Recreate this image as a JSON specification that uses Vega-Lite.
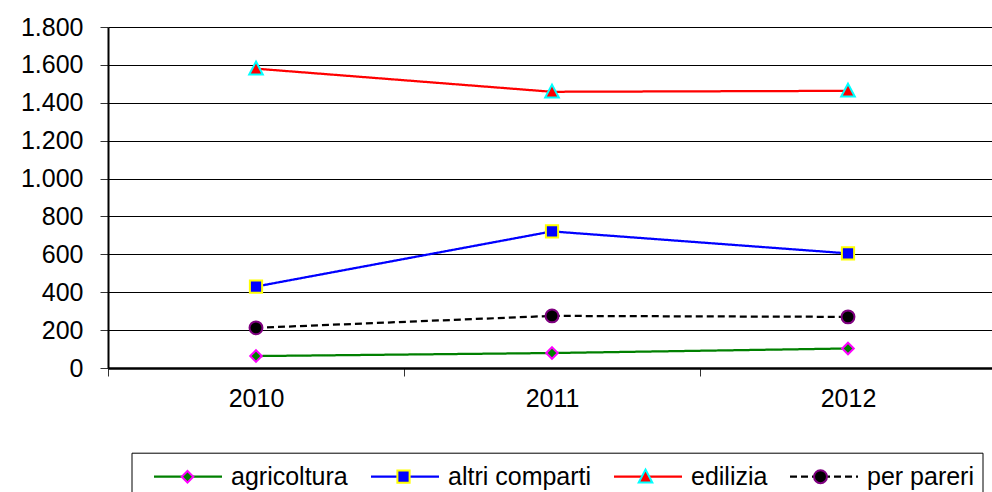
{
  "$schema": "https://vega.github.io/schema/vega-lite/v6.json",
  "width": 888,
  "height": 341,
  "autosize": {"type": "none"},
  "padding": {"left": 108, "top": 27, "right": 0, "bottom": 124},
  "background": "white",
  "config": {
    "view": {"stroke": null},
    "font": "Liberation Sans",
    "axis": {"labelFont": "Liberation Sans", "labelColor": "black"},
    "legend": {"labelFont": "Liberation Sans"}
  },
  "data": {
    "values": [
      {"year": "2010", "series": "agricoltura", "value": 63},
      {"year": "2011", "series": "agricoltura", "value": 79},
      {"year": "2012", "series": "agricoltura", "value": 103},
      {"year": "2010", "series": "altri comparti", "value": 430},
      {"year": "2011", "series": "altri comparti", "value": 721},
      {"year": "2012", "series": "altri comparti", "value": 605},
      {"year": "2010", "series": "edilizia", "value": 1580},
      {"year": "2011", "series": "edilizia", "value": 1458},
      {"year": "2012", "series": "edilizia", "value": 1463},
      {"year": "2010", "series": "per pareri", "value": 212},
      {"year": "2011", "series": "per pareri", "value": 275},
      {"year": "2012", "series": "per pareri", "value": 270}
    ]
  },
  "encoding": {
    "x": {
      "field": "year", "type": "ordinal",
      "scale": {"type": "band", "paddingInner": 0, "paddingOuter": 0},
      "axis": {
        "title": null, "labelAngle": 0, "grid": false, "tickBand": "extent",
        "tickSize": 8, "tickColor": "#333333", "domainColor": "black", "domainWidth": 2.5,
        "labelFontSize": 25, "labelPadding": 10
      }
    },
    "y": {
      "field": "value", "type": "quantitative",
      "scale": {"domain": [0, 1800], "nice": false},
      "axis": {
        "title": null, "values": [0, 200, 400, 600, 800, 1000, 1200, 1400, 1600, 1800], "labelOverlap": false,
        "grid": true, "gridColor": "black", "gridWidth": 1, "gridOpacity": 1,
        "domainColor": "black", "domainWidth": 2, "tickSize": 8, "tickColor": "#333333",
        "labelFontSize": 25, "labelPadding": 17,
        "labelExpr": "replace(format(datum.value, ','), ',', '.')"
      }
    }
  },
  "layer": [
    {
      "mark": {"type": "line", "strokeWidth": 2.25},
      "encoding": {
        "color": {
          "field": "series", "type": "nominal",
          "scale": {"domain": ["agricoltura", "altri comparti", "edilizia", "per pareri"], "range": ["#008000", "#0000FF", "#FF0000", "#000000"]},
          "legend": {
            "orient": "none", "legendX": 23.5, "legendY": 425.7, "direction": "horizontal", "columns": 4,
            "title": null, "symbolSize": 4624, "symbolStrokeWidth": 2.25, "symbolOffset": 13,
            "labelOffset": 7.5, "columnPadding": 8, "padding": 8, "clipHeight": 32,
            "labelFontSize": 25, "labelColor": "black", "strokeColor": "black", "labelLimit": 0
          }
        },
        "strokeDash": {
          "field": "series", "type": "nominal",
          "scale": {"domain": ["agricoltura", "altri comparti", "edilizia", "per pareri"], "range": [[1, 0], [1, 0], [1, 0], [7, 4]]},
          "legend": {
            "orient": "none", "legendX": 23.5, "legendY": 425.7, "direction": "horizontal", "columns": 4,
            "title": null, "symbolSize": 4624, "symbolStrokeWidth": 2.25, "symbolOffset": 13,
            "labelOffset": 7.5, "columnPadding": 8, "padding": 8, "clipHeight": 32,
            "labelFontSize": 25, "labelColor": "black", "strokeColor": "black", "labelLimit": 0
          }
        }
      }
    },
    {
      "mark": {"type": "point", "filled": true, "size": 4624, "strokeWidth": 2, "opacity": 1},
      "encoding": {
        "fill": {
          "field": "series", "type": "nominal",
          "scale": {"range": ["#008000", "#0000FF", "#FF0000", "#000000"]},
          "legend": {
            "orient": "none", "legendX": 23.5, "legendY": 425.7, "direction": "horizontal", "columns": 4,
            "title": null, "symbolSize": 4624, "symbolStrokeWidth": 2, "symbolOffset": 13,
            "labelOffset": 7.5, "columnPadding": 8, "padding": 8, "clipHeight": 32,
            "labelFontSize": 25, "labelOpacity": 0, "labelLimit": 0
          }
        },
        "stroke": {
          "field": "series", "type": "nominal",
          "scale": {"range": ["#FF00FF", "#FFFF00", "#00FFFF", "#800080"]},
          "legend": {
            "orient": "none", "legendX": 23.5, "legendY": 425.7, "direction": "horizontal", "columns": 4,
            "title": null, "symbolSize": 4624, "symbolStrokeWidth": 2, "symbolOffset": 13,
            "labelOffset": 7.5, "columnPadding": 8, "padding": 8, "clipHeight": 32,
            "labelFontSize": 25, "labelOpacity": 0, "labelLimit": 0
          }
        },
        "shape": {
          "field": "series", "type": "nominal",
          "scale": {"range": [
            "M0,-0.17L0.17,0L0,0.17L-0.17,0Z",
            "M-0.18,-0.18H0.18V0.18H-0.18Z",
            "M0,-0.21L0.2,0.17H-0.2Z",
            "M-0.19,0A0.19,0.19,0,1,0,0.19,0A0.19,0.19,0,1,0,-0.19,0Z"
          ]},
          "legend": {
            "orient": "none", "legendX": 23.5, "legendY": 425.7, "direction": "horizontal", "columns": 4,
            "title": null, "symbolSize": 4624, "symbolStrokeWidth": 2, "symbolOffset": 13,
            "labelOffset": 7.5, "columnPadding": 8, "padding": 8, "clipHeight": 32,
            "labelFontSize": 25, "labelOpacity": 0, "labelLimit": 0
          }
        }
      }
    }
  ]
}
